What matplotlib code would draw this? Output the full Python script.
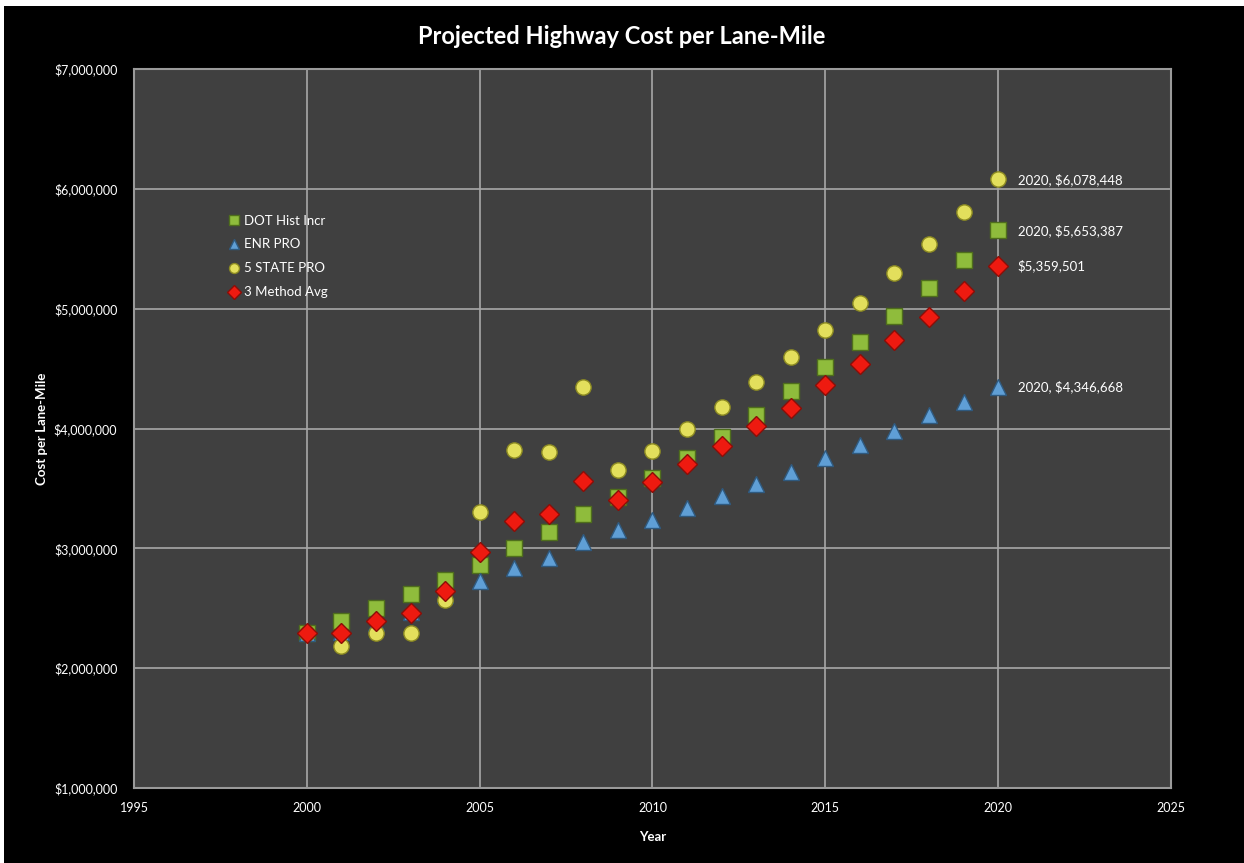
import matplotlib.pyplot as plt
from matplotlib.patches import Rectangle
from matplotlib.ticker import FuncFormatter, MultipleLocator

years = list(range(2000, 2021))

dot_hist = [2.29, 2.39, 2.50, 2.62, 2.74, 2.86, 3.00, 3.14, 3.29, 3.43, 3.59,
            3.75, 3.93, 4.11, 4.31, 4.51, 4.72, 4.94, 5.17, 5.41, 5.653387]
enr_pro = [2.29, 2.30, 2.38, 2.47, 2.61, 2.73, 2.84, 2.92, 3.05, 3.15, 3.24,
           3.34, 3.44, 3.54, 3.64, 3.75, 3.86, 3.98, 4.11, 4.22, 4.346668]
state_pro = [2.29, 2.185, 2.29, 2.29, 2.57, 3.30, 3.82, 3.80, 4.35, 3.65, 3.81,
             4.00, 4.18, 4.39, 4.60, 4.82, 5.05, 5.30, 5.54, 5.81, 6.078448]
method_avg = [2.29, 2.29, 2.39, 2.46, 2.64, 2.97, 3.23, 3.29, 3.56, 3.40, 3.55,
              3.70, 3.85, 4.02, 4.17, 4.36, 4.54, 4.74, 4.93, 5.15, 5.359501]

# values are in millions of dollars
series = [
    ("DOT Hist Incr", dot_hist, "s", "#8fbc3c", "#4f6e1c", 11.5),
    ("ENR PRO", enr_pro, "^", "#5f9fd6", "#2f5a80", 11.5),
    ("5 STATE PRO", state_pro, "o", "#e3df5c", "#8c8a22", 11),
    ("3 Method Avg", method_avg, "D", "#ee1a10", "#8a0e08", 10.5),
]

plt.rcParams["font.family"] = ["Lato", "DejaVu Sans"]

fig = plt.figure(figsize=(12.44, 8.63), dpi=100, facecolor="white")
fig.add_artist(Rectangle((4 / 1244, 0), 1, 1 - 6 / 863, transform=fig.transFigure,
                         facecolor="black", edgecolor="none", zorder=-10))

ax = fig.add_axes([0.1077, 0.0869, 0.8336, 0.8331])
ax.set_facecolor("#404040")

for name, vals, mk, fc, ec, ms in series:
    ax.plot(years, vals, ls="none", marker=mk, markersize=ms, markerfacecolor=fc,
            markeredgecolor=ec, markeredgewidth=1.0, label=name, zorder=3)

ax.set_xlim(1995, 2025)
ax.set_ylim(1, 7)
ax.xaxis.set_major_locator(MultipleLocator(5))
ax.yaxis.set_major_locator(MultipleLocator(1))
ax.yaxis.set_major_formatter(FuncFormatter(lambda v, p: f"${v * 1e6:,.0f}"))
ax.grid(True, color="#a8a8a8", lw=1.2)
ax.set_axisbelow(True)
for s in ax.spines.values():
    s.set_color("#9a9a9a")
    s.set_linewidth(1.5)
ax.tick_params(colors="white", labelsize=9, length=0)
ax.tick_params(axis="x", pad=10)
ax.tick_params(axis="y", pad=12)

ax.set_xlabel("Year", color="white", fontsize=9.5, fontweight="bold", labelpad=12)
ax.set_ylabel("Cost per Lane-Mile", color="white", fontsize=9.5, fontweight="bold",
              labelpad=4)
fig.text(0.5, 0.958, "Projected Highway Cost per Lane-Mile", color="white",
         fontsize=17, fontweight="bold", ha="center", va="center")

# labels on the 2020 points
labels = [
    (state_pro[-1], "2020, $6,078,448"),
    (dot_hist[-1], "2020, $5,653,387"),
    (method_avg[-1], "$5,359,501"),
    (enr_pro[-1], "2020, $4,346,668"),
]
for yv, txt in labels:
    ax.annotate(txt, (2020, yv), xytext=(14, 0), textcoords="offset points",
                color="white", fontsize=9.5, ha="left", va="center")

leg = ax.legend(loc="upper left", bbox_to_anchor=(0.085, 0.805), frameon=False,
                fontsize=9.5, markerscale=0.65, handletextpad=0.25, labelspacing=0.9,
                handlelength=1.0, borderaxespad=0)
for t in leg.get_texts():
    t.set_color("white")

fig.savefig("out.png", dpi=100, facecolor=fig.get_facecolor())
